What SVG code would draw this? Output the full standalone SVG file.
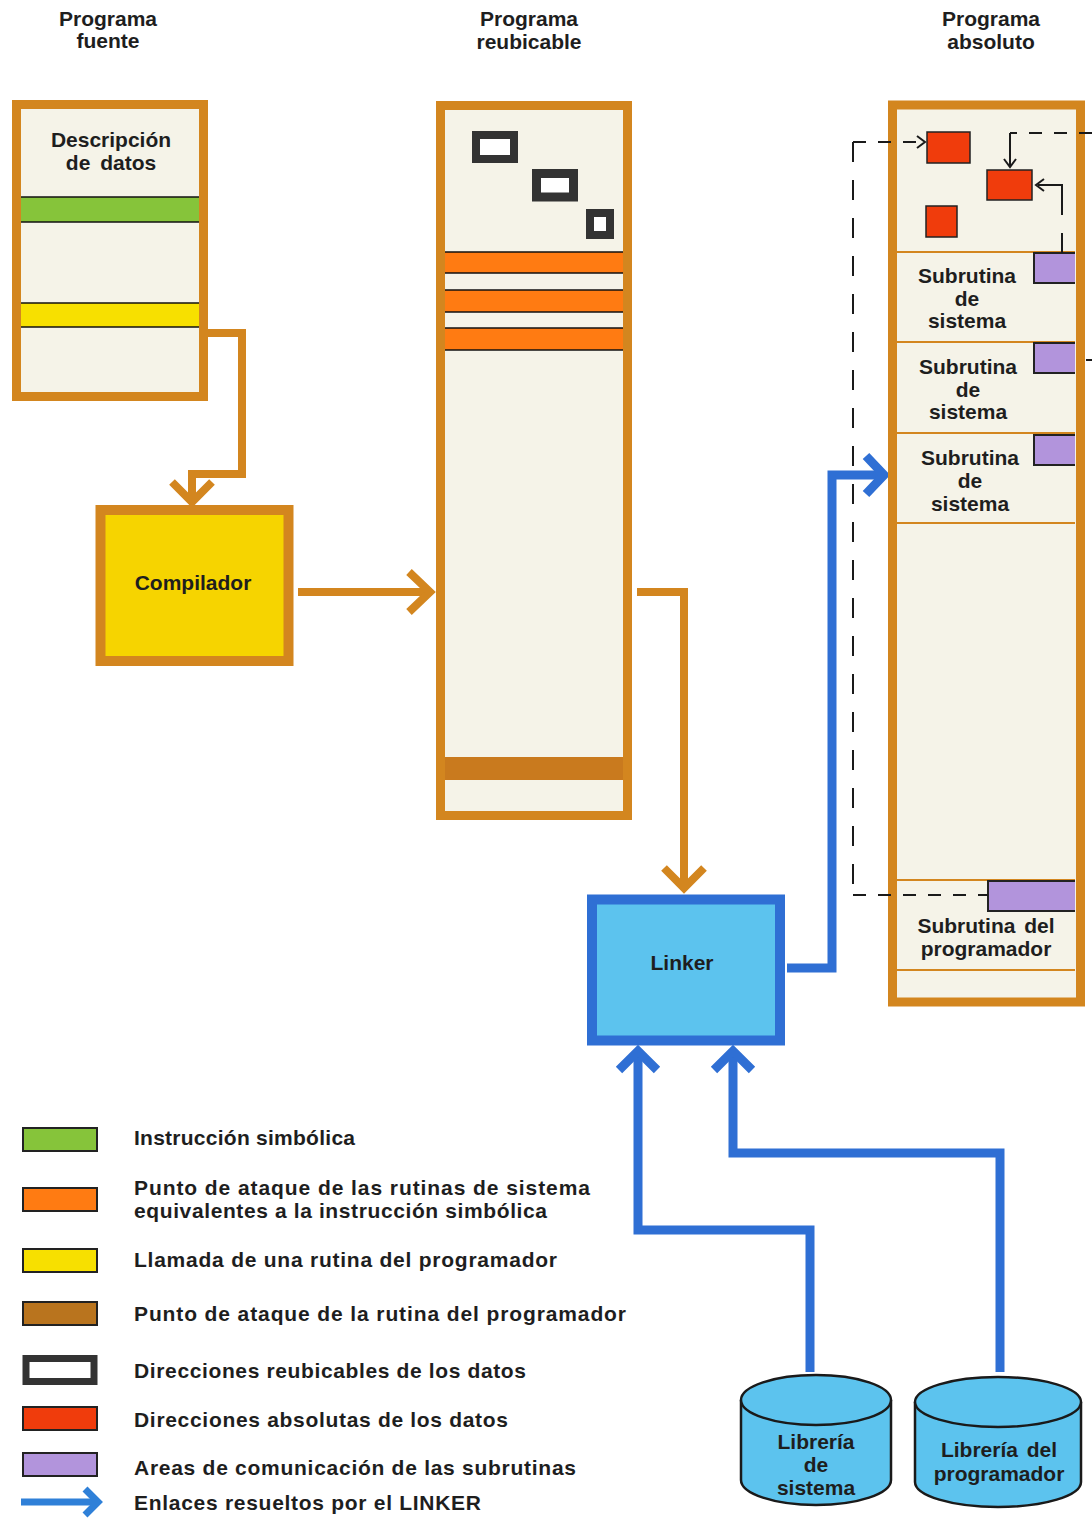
<svg xmlns="http://www.w3.org/2000/svg" width="1092" height="1529" viewBox="0 0 1092 1529">
  <style>
    text { font-family: "Liberation Sans", Arial, sans-serif; font-weight: bold; fill: #1e1e1e; }
    .title { font-size: 21px; text-anchor: middle; }
    .lbl { font-size: 21px; text-anchor: middle; }
    .leg { font-size: 21px; }
    .frame { fill: #f5f3e8; stroke: #d3861f; stroke-width: 9; }
    .div { stroke: #d3861f; stroke-width: 2; }
    .band { stroke: #111; stroke-width: 1.6; }
    .och { fill: none; stroke: #d3861f; stroke-width: 8; stroke-linejoin: miter; }
    .bch { fill: none; stroke: #2f6fd4; stroke-width: 9; stroke-linejoin: miter; }
    .dash { fill: none; stroke: #1a1a1a; stroke-width: 2; }
    .dv { stroke-dasharray: 20 18; }
    .dh { stroke-dasharray: 13 12; }
    .tip { fill: none; stroke: #1a1a1a; stroke-width: 2; }
    .red { fill: #f03c0c; stroke: #222; stroke-width: 1.5; }
    .purple { fill: #b294dc; stroke: #222; stroke-width: 2; }
    .reloc { fill: #ffffff; stroke: #333333; }
    .cyl { fill: #5cc3ee; stroke: #1a1a1a; stroke-width: 2.5; }
  </style>

  <rect width="1092" height="1529" fill="#ffffff"/>

  <!-- column titles -->
  <g id="titles">
    <text class="title" x="108" y="26">Programa</text>
    <text class="title" x="108" y="48">fuente</text>
    <text class="title" x="529" y="26">Programa</text>
    <text class="title" x="529" y="49">reubicable</text>
    <text class="title" x="991" y="26">Programa</text>
    <text class="title" x="991" y="49">absoluto</text>
  </g>

  <!-- connectors -->
  <g id="connectors">
    <!-- source program to compiler -->
    <path class="och" d="M208,333 H242 V474 H192 V500"/>
    <path class="och" d="M172,482 L192,502 L212,482"/>
    <!-- compiler to relocatable program -->
    <path class="och" d="M298,592 H428"/>
    <path class="och" d="M409,572 L430,592 L409,612"/>
    <!-- relocatable program to linker -->
    <path class="och" d="M637,592 H684 V886"/>
    <path class="och" d="M664,868 L684,888 L704,868"/>
    <!-- linker to absolute program -->
    <path class="bch" d="M787,968 H832 V475 H880"/>
    <path class="bch" d="M866,456 L884,475 L866,494"/>
    <!-- libraries to linker -->
    <path class="bch" d="M810,1372 V1230 H638 V1052"/>
    <path class="bch" d="M619,1070 L638,1051 L657,1070"/>
    <path class="bch" d="M1000,1372 V1153 H733 V1052"/>
    <path class="bch" d="M714,1070 L733,1051 L752,1070"/>
  </g>

  <!-- source program -->
  <g id="programa-fuente">
    <rect class="frame" x="16.5" y="104.5" width="187" height="292"/>
    <rect x="21" y="197" width="178" height="25" fill="#86c43a"/>
    <line class="band" x1="21" y1="197" x2="199" y2="197"/>
    <line class="band" x1="21" y1="222" x2="199" y2="222"/>
    <rect x="21" y="303" width="178" height="24" fill="#f7e000"/>
    <line class="band" x1="21" y1="303" x2="199" y2="303"/>
    <line class="band" x1="21" y1="327" x2="199" y2="327"/>
    <text class="lbl" x="111" y="147">Descripción</text>
    <text class="lbl" x="111" y="170" word-spacing="4">de datos</text>
  </g>

  <!-- compiler -->
  <g id="compilador">
    <rect x="100.5" y="510" width="188" height="151" fill="#f6d400" stroke="#d3861f" stroke-width="10"/>
    <text class="lbl" x="193" y="590">Compilador</text>
  </g>

  <!-- relocatable program -->
  <g id="programa-reubicable">
    <rect class="frame" x="440.5" y="105.5" width="187" height="710" stroke-width="10"/>
    <rect x="445" y="757" width="178" height="23" fill="#c97a1e"/>
    <rect class="reloc" x="476" y="135" width="38" height="24" stroke-width="8"/>
    <rect class="reloc" x="536.5" y="173.5" width="37" height="23.5" stroke-width="9"/>
    <rect class="reloc" x="590" y="213" width="20" height="22" stroke-width="8"/>
    <rect x="445" y="252" width="178" height="21" fill="#ff7b12"/>
    <rect x="445" y="290" width="178" height="22" fill="#ff7b12"/>
    <rect x="445" y="328" width="178" height="22" fill="#ff7b12"/>
    <g class="band">
      <line x1="445" y1="252" x2="623" y2="252"/>
      <line x1="445" y1="273" x2="623" y2="273"/>
      <line x1="445" y1="290" x2="623" y2="290"/>
      <line x1="445" y1="312" x2="623" y2="312"/>
      <line x1="445" y1="328" x2="623" y2="328"/>
      <line x1="445" y1="350" x2="623" y2="350"/>
    </g>
  </g>

  <!-- linker -->
  <g id="linker">
    <rect x="592" y="899.5" width="188" height="141" fill="#5cc3ee" stroke="#2f6fd4" stroke-width="10"/>
    <text class="lbl" x="682" y="970">Linker</text>
  </g>

  <!-- absolute program -->
  <g id="programa-absoluto">
    <rect class="frame" x="892.5" y="105" width="188" height="897" stroke-width="10"/>
    <g class="div">
      <line x1="897" y1="252" x2="1075" y2="252"/>
      <line x1="897" y1="342" x2="1075" y2="342"/>
      <line x1="897" y1="433" x2="1075" y2="433"/>
      <line x1="897" y1="523" x2="1075" y2="523"/>
      <line x1="897" y1="880" x2="1075" y2="880"/>
      <line x1="897" y1="970" x2="1075" y2="970"/>
    </g>
    <rect class="red" x="927" y="132" width="43" height="31"/>
    <rect class="red" x="987" y="170" width="45" height="30"/>
    <rect class="red" x="926" y="206" width="31" height="31"/>
    <!-- communication areas open towards the frame -->
    <path class="purple" d="M1075,253 H1034 V283 H1075"/>
    <path class="purple" d="M1075,343 H1034 V373 H1075"/>
    <path class="purple" d="M1075,435 H1034 V465 H1075"/>
    <path class="purple" d="M1075,881 H988 V911 H1075"/>
    <text class="lbl" x="967" y="283">Subrutina</text>
    <text class="lbl" x="967" y="306">de</text>
    <text class="lbl" x="967" y="328">sistema</text>
    <text class="lbl" x="968" y="374">Subrutina</text>
    <text class="lbl" x="968" y="397">de</text>
    <text class="lbl" x="968" y="419">sistema</text>
    <text class="lbl" x="970" y="465">Subrutina</text>
    <text class="lbl" x="970" y="488">de</text>
    <text class="lbl" x="970" y="511">sistema</text>
    <text class="lbl" x="986" y="933" word-spacing="3">Subrutina del</text>
    <text class="lbl" x="986" y="956">programador</text>
  </g>

  <!-- data / subroutine cross references -->
  <g id="references">
    <path class="dash dv" d="M853,142 V895"/>
    <path class="dash dh" d="M853,142 H920"/>
    <path class="dash dh" d="M853,895 H988"/>
    <path class="tip" d="M917,136 L925,142 L917,148"/>
    <path class="dash dh" d="M1092,133 H1010"/>
    <path class="dash" d="M1010,133 V166"/>
    <path class="tip" d="M1004,159 L1010,167 L1016,159"/>
    <path class="dash dv" d="M1062,253 V202"/>
    <path class="dash" d="M1062,202 V185 H1038"/>
    <path class="tip" d="M1044,179 L1036,185 L1044,191"/>
    <line x1="1086" y1="360" x2="1092" y2="360" stroke="#1a1a1a" stroke-width="2"/>
  </g>

  <!-- libraries -->
  <g id="libreria-sistema">
    <path class="cyl" d="M741,1400 A75,25 0 0,1 891,1400 V1480 A75,25 0 0,1 741,1480 Z"/>
    <path class="cyl" d="M741,1400 A75,25 0 0,0 891,1400" fill="none"/>
    <text class="lbl" x="816" y="1449">Librería</text>
    <text class="lbl" x="816" y="1472">de</text>
    <text class="lbl" x="816" y="1495">sistema</text>
  </g>
  <g id="libreria-programador">
    <path class="cyl" d="M915,1402 A83,25 0 0,1 1081,1402 V1482 A83,25 0 0,1 915,1482 Z"/>
    <path class="cyl" d="M915,1402 A83,25 0 0,0 1081,1402" fill="none"/>
    <text class="lbl" x="999" y="1457" word-spacing="3">Librería del</text>
    <text class="lbl" x="999" y="1481">programador</text>
  </g>

  <!-- legend -->
  <g id="legend">
    <rect x="23" y="1128" width="74" height="23" fill="#86c43a" stroke="#222" stroke-width="2"/>
    <rect x="23" y="1188" width="74" height="23" fill="#ff7b12" stroke="#222" stroke-width="2"/>
    <rect x="23" y="1249" width="74" height="23" fill="#f7e000" stroke="#222" stroke-width="2"/>
    <rect x="23" y="1302" width="74" height="23" fill="#b9741e" stroke="#222" stroke-width="2"/>
    <rect x="26" y="1358.5" width="68" height="23" fill="#ffffff" stroke="#333" stroke-width="7"/>
    <rect x="23" y="1407" width="74" height="23" fill="#f03c0c" stroke="#222" stroke-width="2"/>
    <rect x="23" y="1453" width="74" height="23" fill="#b294dc" stroke="#222" stroke-width="2"/>
    <path d="M21,1502 H94" stroke="#2f80d8" stroke-width="7" fill="none"/>
    <path d="M85,1489 L98,1502 L85,1515" stroke="#2f80d8" stroke-width="7" fill="none"/>
    <text class="leg" x="134" y="1145" textLength="221" lengthAdjust="spacing">Instrucción simbólica</text>
    <text class="leg" x="134" y="1195" textLength="456" lengthAdjust="spacing">Punto de ataque de las rutinas de sistema</text>
    <text class="leg" x="134" y="1218" textLength="413" lengthAdjust="spacing">equivalentes a la instrucción simbólica</text>
    <text class="leg" x="134" y="1267" textLength="423" lengthAdjust="spacing">Llamada de una rutina del programador</text>
    <text class="leg" x="134" y="1321" textLength="492" lengthAdjust="spacing">Punto de ataque de la rutina del programador</text>
    <text class="leg" x="134" y="1378" textLength="392" lengthAdjust="spacing">Direcciones reubicables de los datos</text>
    <text class="leg" x="134" y="1427" textLength="374" lengthAdjust="spacing">Direcciones absolutas de los datos</text>
    <text class="leg" x="134" y="1475" textLength="442" lengthAdjust="spacing">Areas de comunicación de las subrutinas</text>
    <text class="leg" x="134" y="1510" textLength="347" lengthAdjust="spacing">Enlaces resueltos por el LINKER</text>
  </g>
</svg>
